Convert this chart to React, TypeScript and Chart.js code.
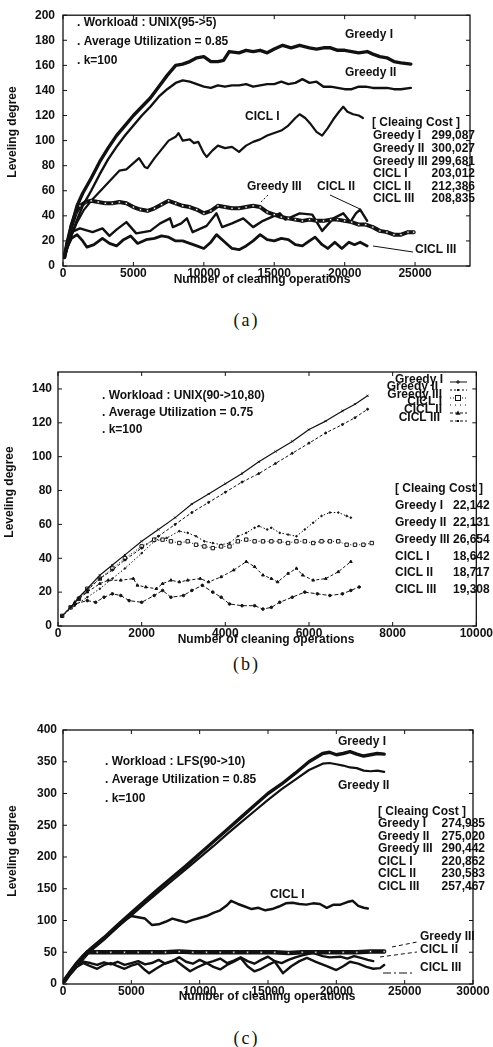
import React, { useEffect, useRef } from 'react';
import { Chart, registerables } from 'chart.js';

Chart.register(...registerables);

type Pt = [number, number];

const FONT = '"Liberation Sans", Arial, Helvetica, sans-serif';
const INK = '#111';
const PAGE_W = 493;

const seriesNames = ['Greedy I', 'Greedy II', 'Greedy III', 'CICL I', 'CICL II', 'CICL III'];

// ---------------- (a) UNIX(95->5) ----------------
const aXTicks = [0, 5000, 10000, 15000, 20000, 25000];
const aYTicks = [0, 20, 40, 60, 80, 100, 120, 140, 160, 180, 200];
const aCost = ['299,087', '300,027', '299,681', '203,012', '212,386', '208,835'];

const aGreedyI: Pt[] = [[100,7],[300,17],[600,32],[1000,48],[1400,58],[2000,70],[2600,83],[3200,94],[3800,104],[4400,112],[5000,120],[5600,127],[6200,134],[6800,143],[7400,152],[8000,160],[8500,161],[9000,163],[9500,166],[10000,167],[10500,163],[11000,163],[11400,164],[11800,171],[12500,170],[13000,172],[13500,171],[14000,172],[14500,170],[15000,173],[15600,176],[16200,174],[16800,176],[17500,174],[18000,173],[18500,174],[19000,174],[19500,172],[20000,172],[20500,171],[21000,170],[21600,171],[22000,169],[22500,167],[23000,166],[23500,163],[24000,162],[24700,161]];
const aGreedyII: Pt[] = [[100,7],[300,14],[600,25],[1000,37],[1400,48],[2000,60],[2600,73],[3200,85],[3800,95],[4400,104],[5000,112],[5600,120],[6200,127],[6800,135],[7400,141],[8000,146],[8500,148],[9000,147],[9500,145],[10000,143],[10500,142],[11000,144],[11500,143],[12000,144],[12500,144],[13000,145],[13500,143],[14000,144],[14500,145],[15000,145],[15500,147],[16000,145],[16500,146],[17000,149],[17500,146],[18000,147],[18500,143],[19000,143],[19500,142],[20000,141],[20500,141],[21000,143],[21500,143],[22000,142],[22500,142],[23000,142],[23500,141],[24000,141],[24700,142]];
const aCICLI: Pt[] = [[100,7],[300,14],[600,24],[1000,35],[1500,45],[2000,52],[2500,58],[3000,64],[3500,70],[4000,76],[4500,77],[5000,82],[5400,86],[5800,79],[6000,78],[6500,86],[7000,93],[7500,100],[8000,103],[8200,106],[8500,100],[9000,101],[9300,98],[9600,99],[10000,90],[10200,87],[10600,92],[11000,96],[11500,94],[12000,95],[12500,91],[13000,96],[13500,99],[14000,101],[14500,104],[15000,106],[15500,108],[16000,112],[16500,118],[16800,121],[17200,118],[17600,113],[18000,107],[18400,104],[18800,110],[19200,117],[19600,123],[19900,127],[20200,123],[20600,121],[21000,120],[21300,118]];
const aGreedyIII: Pt[] = [[100,7],[300,18],[600,32],[900,42],[1200,48],[1600,51],[2000,52],[2500,51],[3000,50],[3500,50],[4000,51],[4500,50],[5000,47],[5500,45],[6000,44],[6500,46],[7000,49],[7500,52],[8000,50],[8500,48],[9000,47],[9500,45],[10000,42],[10500,44],[11000,48],[11500,47],[12000,46],[12500,46],[13000,47],[13500,48],[14000,47],[14500,43],[15000,41],[15500,39],[16000,38],[16500,37],[17000,36],[17500,37],[18000,36],[18500,36],[19000,37],[19500,37],[20000,36],[20500,35],[21000,33],[21500,33],[22000,31],[22500,28],[23000,27],[23500,25],[24000,25],[24500,27],[24900,27]];
const aCICLII: Pt[] = [[100,7],[300,20],[600,27],[1200,30],[2100,27],[2800,30],[3300,24],[3800,29],[4500,35],[5200,26],[6200,28],[6900,34],[7600,38],[7800,31],[8400,34],[8800,38],[9200,27],[10200,32],[10900,42],[11300,31],[12000,34],[12800,38],[13500,31],[14200,36],[15400,42],[15800,37],[16800,42],[17700,41],[18400,28],[19200,38],[19900,42],[20400,35],[20800,42],[21100,45],[21600,36]];
const aCICLIII: Pt[] = [[100,8],[300,15],[600,22],[1000,25],[1400,20],[1700,15],[2200,17],[2800,22],[3300,18],[3800,16],[4300,21],[4800,24],[5300,18],[5900,21],[6500,22],[7000,24],[7500,23],[8000,20],[8500,20],[9000,18],[9500,16],[10000,14],[10500,19],[10900,25],[11500,19],[12000,14],[12500,13],[13000,16],[13500,20],[14000,25],[14500,21],[15000,20],[15500,22],[16000,21],[16500,17],[17000,16],[17500,20],[17900,23],[18400,17],[18800,14],[19300,19],[19800,14],[20300,19],[20700,17],[21100,19],[21600,16]];

// ---------------- (b) UNIX(90->10,80) ----------------
const bXTicks = [0, 2000, 4000, 6000, 8000, 10000];
const bYTicks = [0, 20, 40, 60, 80, 100, 120, 140];
const bCost = ['22,142', '22,131', '26,654', '18,642', '18,717', '19,308'];

const bGreedyI: Pt[] = [[100,6],[300,11],[500,17],[700,22],[1000,30],[1300,36],[1600,42],[2000,50],[2400,57],[2800,64],[3200,72],[3600,78],[4000,84],[4400,90],[4800,97],[5200,103],[5600,109],[6000,116],[6400,121],[6800,127],[7100,131],[7400,136]];
const bGreedyII: Pt[] = [[100,6],[300,11],[500,16],[700,21],[1000,28],[1300,33],[1600,39],[2000,46],[2400,53],[2800,60],[3200,67],[3600,73],[4000,79],[4400,85],[4800,90],[5200,96],[5600,102],[6000,108],[6400,114],[6800,119],[7100,123],[7400,128]];
const bGreedyIII: Pt[] = [[100,6],[300,11],[500,16],[700,22],[1000,28],[1300,34],[1600,40],[2000,47],[2300,51],[2500,51],[2700,50],[2900,49],[3100,50],[3300,48],[3500,47],[3700,46],[3900,47],[4100,47],[4300,50],[4500,51],[4700,50],[4900,50],[5100,50],[5300,50],[5500,49],[5700,50],[5900,50],[6100,49],[6300,50],[6500,50],[6700,50],[6900,48],[7100,48],[7300,48],[7500,49]];
const bCICLI: Pt[] = [[100,6],[400,12],[700,17],[1000,22],[1300,28],[1600,34],[2000,43],[2300,50],[2600,52],[2900,56],[3100,55],[3300,53],[3500,50],[3700,49],[3900,48],[4100,49],[4300,53],[4500,55],[4700,58],[4800,59],[5000,57],[5100,58],[5300,55],[5500,54],[5700,53],[5900,57],[6100,61],[6300,65],[6500,67],[6700,67],[6900,65],[7000,64]];
const bCICLII: Pt[] = [[100,6],[400,14],[700,20],[1000,25],[1200,27],[1500,27],[1800,28],[1900,24],[2100,23],[2350,22],[2500,25],[2700,27],[2900,26],[3100,27],[3400,28],[3600,26],[3900,29],[4200,33],[4500,38],[4700,35],[4900,30],[5100,28],[5250,26],[5500,31],[5700,34],[5850,30],[6100,27],[6400,28],[6700,32],[7000,38]];
const bCICLIII: Pt[] = [[100,6],[400,13],[700,15],[900,14],[1100,17],[1300,19],[1500,18],[1700,15],[2000,14],[2300,18],[2500,21],[2700,17],[3000,18],[3200,21],[3450,24],[3700,20],[3900,17],[4100,13],[4400,12],[4700,12],[4900,10],[5100,11],[5300,14],[5600,17],[5900,20],[6200,19],[6500,18],[6800,19],[7000,21],[7200,23]];

// ---------------- (c) LFS(90->10) ----------------
const cXTicks = [0, 5000, 10000, 15000, 20000, 25000, 30000];
const cYTicks = [0, 50, 100, 150, 200, 250, 300, 350, 400];
const cCost = ['274,985', '275,020', '290,442', '220,862', '230,583', '257,467'];

const cGreedyI: Pt[] = [[100,5],[500,18],[1000,33],[1500,45],[2000,55],[3000,73],[4000,93],[5000,112],[6000,131],[7000,150],[8000,168],[9000,186],[10000,205],[11000,224],[12000,243],[13000,262],[14000,281],[15000,300],[16000,315],[17000,332],[18000,350],[19000,363],[19500,365],[20000,361],[20500,363],[21000,366],[21500,362],[22000,359],[22500,361],[23000,363],[23500,362]];
const cGreedyII: Pt[] = [[100,5],[500,17],[1000,31],[1500,43],[2000,53],[3000,71],[4000,90],[5000,108],[6000,127],[7000,145],[8000,163],[9000,181],[10000,199],[11000,217],[12000,236],[13000,254],[14000,272],[15000,290],[16000,307],[17000,322],[18000,337],[19000,347],[19500,348],[20000,346],[20500,344],[21000,341],[21500,340],[22000,336],[22500,335],[23000,336],[23500,334]];
const cCICLI: Pt[] = [[100,5],[500,17],[1000,30],[1500,42],[2000,52],[3000,70],[4000,90],[4500,100],[5000,107],[5500,105],[6000,103],[6500,93],[7000,94],[7500,98],[8000,103],[8500,100],[9000,97],[9500,101],[10000,104],[10500,107],[11000,112],[11500,116],[12000,124],[12300,131],[12800,126],[13300,122],[13800,118],[14300,120],[14800,116],[15300,118],[15800,122],[16300,127],[16800,128],[17300,126],[17800,125],[18300,127],[18800,126],[19300,120],[19800,125],[20300,125],[20800,129],[21200,131],[21600,123],[22000,120],[22300,119]];
const cGreedyIII: Pt[] = [[100,5],[500,17],[1000,30],[1500,42],[1800,50],[2500,50],[3500,50],[4500,50],[5500,50],[6500,50],[7500,50],[8500,51],[9500,50],[10500,50],[11500,50],[12500,50],[13500,50],[14500,50],[15500,50],[16500,49],[17500,50],[18500,50],[19500,50],[20500,50],[21500,50],[22500,51],[23500,51]];
const cCICLII: Pt[] = [[100,5],[500,16],[1000,28],[1500,35],[2000,33],[2500,30],[3000,34],[3500,31],[4000,35],[4500,30],[5000,33],[5500,36],[6000,31],[6500,33],[7000,38],[7500,32],[8000,36],[8500,42],[9000,35],[9500,32],[10000,38],[10500,33],[11000,36],[11500,40],[12000,33],[12500,37],[13000,42],[13500,36],[14000,32],[14500,38],[15000,43],[15500,36],[16000,33],[16500,38],[17000,42],[17500,45],[18300,49],[19000,44],[19500,42],[20300,43],[20800,40],[21300,44],[21800,41],[22300,38],[22700,36]];
const cCICLIII: Pt[] = [[100,5],[500,15],[1000,27],[1500,33],[2000,28],[2500,24],[3000,30],[3500,33],[4000,28],[4500,24],[5000,29],[5500,32],[6000,22],[6300,17],[6800,24],[7500,33],[8200,38],[8800,28],[9300,20],[9800,26],[10500,33],[11000,27],[11500,23],[12000,30],[12500,35],[13000,41],[13500,28],[14000,20],[14500,24],[15000,30],[15500,35],[16100,17],[16700,28],[17300,36],[17850,41],[18500,35],[19300,28],[20000,22],[20500,28],[21000,35],[21600,32],[22200,27],[22700,24],[23200,25],[23500,30]];

// ---------------- helpers ----------------
const toXY = (pts: Pt[]) => pts.map(([x, y]) => ({ x, y }));

function ds(pts: Pt[], o: any) {
  return {
    data: toXY(pts),
    borderColor: INK,
    backgroundColor: INK,
    borderWidth: o.w,
    borderDash: o.dash || [],
    borderCapStyle: o.dash ? 'butt' : 'round',
    borderJoinStyle: 'round',
    pointRadius: o.r || 0,
    pointStyle: o.ps || 'circle',
    pointBackgroundColor: o.pf || INK,
    pointBorderColor: INK,
    pointBorderWidth: o.pbw ?? 1,
    tension: 0,
    fill: false,
  };
}

type TextItem = [string, number, number, CanvasTextAlign];
interface Leader { a: Pt; b: Pt; dash: number[] }
interface LegendItem { name: string; ty: number; tx: number; sy: number; dash: number[]; marker: string }
interface Spec {
  id: string; top: number; height: number;
  area: { l: number; r: number; t: number; b: number };
  xMax: number; yMax: number; xTicks: number[]; yTicks: number[]; yPad: number;
  datasets: any[];
  texts: TextItem[];
  cost: string[]; costNameX: number; costValX: number; costValAlign: CanvasTextAlign; costRows: number[];
  xTitle: Pt; yTitle: Pt;
  leaders: Leader[];
  legend?: LegendItem[];
}

const specA: Spec = {
  id: 'a', top: 0, height: 300,
  area: { l: 63, r: 470, t: 11, b: 266 },
  xMax: 28900, yMax: 200, xTicks: aXTicks, yTicks: aYTicks, yPad: 8,
  datasets: [
    ds(aGreedyI, { w: 3.4 }),
    ds(aGreedyII, { w: 2.4 }),
    ds(aGreedyIII, { w: 4, r: 1.6, ps: 'rect', pf: '#fff', pbw: 0.8 }),
    ds(aCICLI, { w: 2.2 }),
    ds(aCICLII, { w: 2.4 }),
    ds(aCICLIII, { w: 2.8 }),
  ],
  texts: [
    ['. Workload : UNIX(95->5)', 77, 23, 'left'],
    ['. Average Utilization = 0.85', 77, 42, 'left'],
    ['. k=100', 77, 61, 'left'],
    ['Greedy I', 345, 35, 'left'],
    ['Greedy II', 345, 73, 'left'],
    ['CICL I', 245, 117, 'left'],
    ['Greedy III', 247, 187, 'left'],
    ['CICL II', 317, 187, 'left'],
    ['CICL III', 415, 250, 'left'],
    ['[ Cleaing Cost ]', 372, 123, 'left'],
  ],
  cost: aCost, costNameX: 373, costValX: 475, costValAlign: 'right', costRows: [136, 149, 162, 174, 187, 199],
  xTitle: [262, 280], yTitle: [13, 132],
  leaders: [
    { a: [330, 195], b: [360, 209], dash: [] },
    { a: [268, 195], b: [260, 203], dash: [2, 2] },
    { a: [413, 252], b: [373, 246], dash: [] },
  ],
};

const specB: Spec = {
  id: 'b', top: 340, height: 310,
  area: { l: 58, r: 477, t: 372, b: 626 },
  xMax: 10000, yMax: 150, xTicks: bXTicks, yTicks: bYTicks, yPad: 6,
  datasets: [
    ds(bGreedyI, { w: 1.2, r: 1.4, ps: 'crossRot' }),
    ds(bGreedyII, { w: 1, dash: [3, 2], r: 1 }),
    ds(bGreedyIII, { w: 1, dash: [1, 2], r: 2.4, ps: 'rect', pf: '#fff', pbw: 1 }),
    ds(bCICLI, { w: 1, dash: [1.5, 2], r: 0.8 }),
    ds(bCICLII, { w: 1, dash: [3, 2], r: 1.6, ps: 'triangle' }),
    ds(bCICLIII, { w: 1, dash: [4, 2], r: 1.3 }),
  ],
  texts: [
    ['. Workload : UNIX(90->10,80)', 102, 396, 'left'],
    ['. Average Utilization = 0.75', 102, 413, 'left'],
    ['. k=100', 102, 430, 'left'],
    ['[ Cleaing Cost ]', 395, 489, 'left'],
  ],
  cost: bCost, costNameX: 395, costValX: 453, costValAlign: 'left', costRows: [506, 523, 540, 557, 573, 590],
  xTitle: [266, 640], yTitle: [10, 492],
  leaders: [],
  legend: [
    { name: 'Greedy I', ty: 380, tx: 443, sy: 382, dash: [], marker: 'plus' },
    { name: 'Greedy II', ty: 387, tx: 438, sy: 390, dash: [2, 2], marker: 'dot' },
    { name: 'Greedy III', ty: 395, tx: 442, sy: 398, dash: [1, 2], marker: 'square' },
    { name: 'CICL I', ty: 402, tx: 442, sy: 405, dash: [1, 4], marker: 'none' },
    { name: 'CICL II', ty: 410, tx: 442, sy: 413, dash: [3, 2], marker: 'triangle' },
    { name: 'CICL III', ty: 418, tx: 440, sy: 421, dash: [3, 2], marker: 'dot' },
  ],
};

const specC: Spec = {
  id: 'c', top: 700, height: 310,
  area: { l: 63, r: 473, t: 730, b: 984 },
  xMax: 30000, yMax: 400, xTicks: cXTicks, yTicks: cYTicks, yPad: 6,
  datasets: [
    ds(cGreedyI, { w: 3.4 }),
    ds(cGreedyII, { w: 2.2 }),
    ds(cGreedyIII, { w: 4.5, r: 1.4, ps: 'rect', pf: '#fff', pbw: 0.6 }),
    ds(cCICLI, { w: 2.5 }),
    ds(cCICLII, { w: 2.4 }),
    ds(cCICLIII, { w: 2.4 }),
  ],
  texts: [
    ['. Workload : LFS(90->10)', 105, 762, 'left'],
    ['. Average Utilization = 0.85', 105, 780, 'left'],
    ['. k=100', 105, 799, 'left'],
    ['Greedy I', 338, 742, 'left'],
    ['Greedy II', 338, 786, 'left'],
    ['CICL I', 270, 895, 'left'],
    ['Greedy III', 420, 937, 'left'],
    ['CICL II', 420, 950, 'left'],
    ['CICL III', 420, 968, 'left'],
    ['[ Cleaing Cost ]', 378, 812, 'left'],
  ],
  cost: cCost, costNameX: 378, costValX: 485, costValAlign: 'right', costRows: [824, 837, 849, 862, 874, 887],
  xTitle: [267, 997], yTitle: [13, 851],
  leaders: [
    { a: [392, 947], b: [417, 942], dash: [4, 3] },
    { a: [380, 957], b: [417, 952], dash: [4, 3] },
    { a: [383, 973], b: [413, 973], dash: [8, 3, 2, 3] },
  ],
};

function overlay(spec: Spec) {
  return {
    id: 'overlay_' + spec.id,
    afterDraw(chart: any) {
      const ctx = chart.ctx as CanvasRenderingContext2D;
      const { left, right, top, bottom } = chart.chartArea;
      const oy = spec.top;
      ctx.save();
      ctx.setLineDash([]);
      ctx.strokeStyle = INK;
      ctx.lineWidth = 1.3;
      ctx.strokeRect(left, top, right - left, bottom - top);
      ctx.lineWidth = 1;
      const xs = chart.scales.x;
      const ys = chart.scales.y;
      ctx.beginPath();
      for (const t of xs.ticks) {
        const p = xs.getPixelForValue(t.value);
        ctx.moveTo(p, bottom); ctx.lineTo(p, bottom - 4);
        ctx.moveTo(p, top); ctx.lineTo(p, top + 4);
      }
      for (const t of ys.ticks) {
        const p = ys.getPixelForValue(t.value);
        ctx.moveTo(left, p); ctx.lineTo(left + 4, p);
        ctx.moveTo(right, p); ctx.lineTo(right - 4, p);
      }
      ctx.stroke();

      ctx.fillStyle = INK;
      ctx.font = `bold 12px ${FONT}`;
      ctx.textBaseline = 'middle';
      for (const [s, x, y, align] of spec.texts) {
        ctx.textAlign = align;
        ctx.fillText(s, x, y - oy);
      }
      spec.costRows.forEach((ry, i) => {
        ctx.textAlign = 'left';
        ctx.fillText(seriesNames[i], spec.costNameX, ry - oy);
        ctx.textAlign = spec.costValAlign;
        ctx.fillText(spec.cost[i], spec.costValX, ry - oy);
      });

      ctx.textAlign = 'center';
      ctx.fillText('Number of cleaning operations', spec.xTitle[0], spec.xTitle[1] - oy);
      ctx.save();
      ctx.translate(spec.yTitle[0], spec.yTitle[1] - oy);
      ctx.rotate(-Math.PI / 2);
      ctx.fillText('Leveling degree', 0, 0);
      ctx.restore();

      ctx.lineWidth = 1;
      for (const l of spec.leaders) {
        ctx.setLineDash(l.dash);
        ctx.beginPath();
        ctx.moveTo(l.a[0], l.a[1] - oy);
        ctx.lineTo(l.b[0], l.b[1] - oy);
        ctx.stroke();
      }
      ctx.setLineDash([]);

      if (spec.legend) {
        for (const it of spec.legend) {
          ctx.textAlign = 'right';
          ctx.fillText(it.name, it.tx, it.ty - oy);
          const sy = it.sy - oy;
          ctx.setLineDash(it.dash);
          ctx.beginPath();
          ctx.moveTo(450, sy);
          ctx.lineTo(467, sy);
          ctx.stroke();
          ctx.setLineDash([]);
          const mx = 458;
          if (it.marker === 'plus') {
            ctx.beginPath();
            ctx.moveTo(mx - 2, sy); ctx.lineTo(mx + 2, sy);
            ctx.moveTo(mx, sy - 2); ctx.lineTo(mx, sy + 2);
            ctx.stroke();
          } else if (it.marker === 'dot') {
            ctx.fillRect(mx - 1, sy - 1, 2, 2);
          } else if (it.marker === 'square') {
            ctx.fillStyle = '#fff';
            ctx.fillRect(mx - 2.5, sy - 2.5, 5, 5);
            ctx.strokeRect(mx - 2.5, sy - 2.5, 5, 5);
            ctx.fillStyle = INK;
          } else if (it.marker === 'triangle') {
            ctx.beginPath();
            ctx.moveTo(mx, sy - 2.5); ctx.lineTo(mx + 2.5, sy + 1.8); ctx.lineTo(mx - 2.5, sy + 1.8);
            ctx.closePath();
            ctx.fill();
          }
        }
      }
      ctx.restore();
    },
  };
}

function Panel({ spec }: { spec: Spec }) {
  const ref = useRef<HTMLCanvasElement | null>(null);
  useEffect(() => {
    if (!ref.current) return;
    const tickFont = { family: FONT, size: 12, weight: 'bold' as const };
    const chart = new Chart(ref.current, {
      type: 'line',
      data: { datasets: spec.datasets },
      options: {
        animation: false,
        responsive: false,
        events: [],
        layout: { padding: { left: 0, top: spec.area.t - spec.top, right: PAGE_W - spec.area.r, bottom: 0 } },
        plugins: { legend: { display: false }, tooltip: { enabled: false } },
        scales: {
          x: {
            type: 'linear', min: 0, max: spec.xMax,
            grid: { display: false, drawTicks: false }, border: { display: false },
            ticks: { autoSkip: false, maxRotation: 0, padding: 0, font: tickFont, color: INK, callback: (v: any) => String(v) },
            afterBuildTicks: (s: any) => { s.ticks = spec.xTicks.map((v) => ({ value: v })); },
            afterFit: (s: any) => { s.height = spec.top + spec.height - spec.area.b; },
          },
          y: {
            type: 'linear', min: 0, max: spec.yMax,
            grid: { display: false, drawTicks: false }, border: { display: false },
            ticks: { autoSkip: false, padding: spec.yPad, font: tickFont, color: INK, callback: (v: any) => String(v) },
            afterBuildTicks: (s: any) => { s.ticks = spec.yTicks.map((v) => ({ value: v })); },
            afterFit: (s: any) => { s.width = spec.area.l; },
          },
        },
      } as any,
      plugins: [overlay(spec)],
    });
    return () => chart.destroy();
  }, [spec]);
  return (
    <canvas
      ref={ref}
      width={PAGE_W}
      height={spec.height}
      style={{ position: 'absolute', left: 0, top: spec.top, width: PAGE_W, height: spec.height }}
    />
  );
}

const captions: [string, number][] = [['(a)', 320], ['(b)', 664], ['(c)', 1038]];

export default function App() {
  return (
    <div style={{ position: 'absolute', left: 0, top: 0, width: PAGE_W, height: 1047, background: '#fff', overflow: 'hidden' }}>
      <Panel spec={specA} />
      <Panel spec={specB} />
      <Panel spec={specC} />
      {captions.map(([c, y]) => (
        <div
          key={c}
          style={{
            position: 'absolute', left: 0, width: PAGE_W, top: y - 11, height: 22, lineHeight: '22px',
            textAlign: 'center', fontFamily: '"Liberation Serif", "DejaVu Serif", serif', fontSize: 18,
            letterSpacing: 2, color: INK,
          }}
        >
          {c}
        </div>
      ))}
    </div>
  );
}
